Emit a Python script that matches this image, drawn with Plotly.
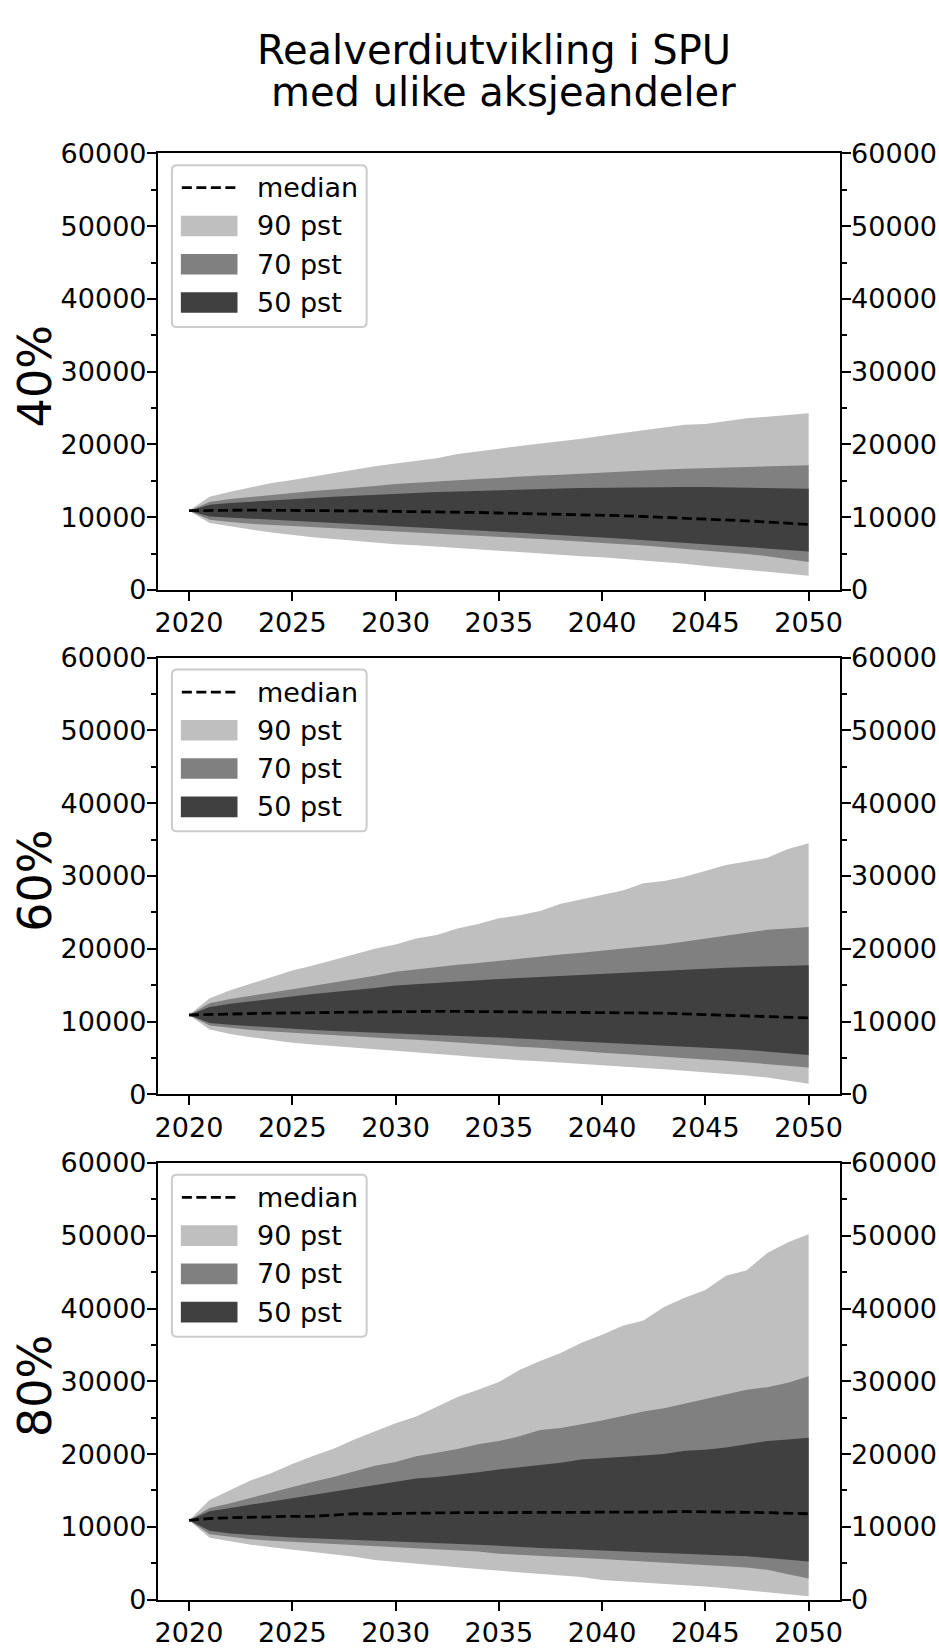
import plotly.graph_objects as go

years = list(range(2020, 2051))
panel_labels = ["40%", "60%", "80%"]
legend_labels = ["median", "90 pst", "70 pst", "50 pst"]
title_lines = ["Realverdiutvikling i SPU", " med ulike aksjeandeler"]

# ---- 40 % aksjeandel ----
p95_40 = [10900, 12800, 13500, 14100, 14700, 15100, 15600, 16100, 16600, 17000, 17400, 17700, 18100, 18700, 19000, 19400,
          19800, 20100, 20500, 20800, 21200, 21600, 22000, 22400, 22700, 22800, 23200, 23600, 23800, 24100, 24300]
p85_40 = [10900, 12100, 12500, 12800, 13100, 13350, 13600, 13800, 14100, 14300, 14550, 14750, 14900, 15100, 15250, 15400,
          15600, 15750, 15850, 16000, 16150, 16300, 16500, 16550, 16650, 16750, 16850, 16950, 17050, 17100, 17150]
p75_40 = [10900, 11700, 11950, 12150, 12350, 12500, 12650, 12800, 12950, 13100, 13250, 13350, 13450, 13550, 13650, 13750,
          13850, 13900, 13950, 14000, 14050, 14100, 14100, 14150, 14150, 14150, 14100, 14050, 14000, 13950, 13900]
med_40 = [10900, 10950, 10950, 10980, 10950, 10950, 10950, 10900, 10880, 10850, 10800, 10780, 10750, 10700, 10650, 10580,
          10530, 10480, 10420, 10350, 10300, 10200, 10100, 10000, 9900, 9800, 9650, 9500, 9350, 9150, 9000]
p25_40 = [10900, 10100, 9900, 9700, 9550, 9400, 9250, 9100, 8950, 8850, 8750, 8600, 8450, 8300, 8150, 8000,
          7850, 7700, 7550, 7400, 7200, 7050, 6850, 6700, 6500, 6300, 6100, 5900, 5700, 5500, 5300]
p15_40 = [10900, 9650, 9350, 9100, 8900, 8750, 8600, 8450, 8300, 8200, 8050, 7900, 7750, 7600, 7450, 7300,
          7150, 7000, 6850, 6700, 6500, 6300, 6100, 5900, 5700, 5450, 5200, 4950, 4650, 4300, 3850]
p5_40 = [10900, 9200, 8700, 8300, 7900, 7550, 7250, 7000, 6750, 6500, 6300, 6150, 6000, 5800, 5600, 5400,
         5200, 5000, 4850, 4650, 4500, 4300, 4100, 3850, 3600, 3300, 3050, 2800, 2500, 2200, 1950]

# ---- 60 % aksjeandel ----
p95_60 = [10900, 13200, 14300, 15200, 16100, 17000, 17700, 18500, 19200, 20000, 20600, 21400, 21900, 22800, 23400, 24200,
          24600, 25200, 26200, 26800, 27400, 28000, 29000, 29300, 29900, 30700, 31500, 32000, 32500, 33700, 34500]
p85_60 = [10900, 12500, 13100, 13600, 14000, 14450, 14900, 15400, 15800, 16300, 16850, 17200, 17500, 17800, 18050, 18350,
          18650, 18950, 19200, 19450, 19700, 20000, 20300, 20600, 21000, 21300, 21800, 22200, 22600, 22800, 23000]
p75_60 = [10900, 12000, 12450, 12800, 13150, 13500, 13800, 14050, 14300, 14600, 14950, 15150, 15350, 15550, 15700, 15850,
          16000, 16150, 16250, 16400, 16550, 16700, 16850, 16950, 17100, 17300, 17400, 17500, 17600, 17700, 17750]
med_60 = [10900, 11000, 11050, 11100, 11150, 11150, 11200, 11250, 11300, 11350, 11370, 11400, 11400, 11400, 11380, 11370,
          11350, 11300, 11300, 11250, 11200, 11150, 11150, 11150, 11050, 10950, 10850, 10800, 10700, 10600, 10500]
p25_60 = [10900, 9800, 9550, 9350, 9150, 9000, 8850, 8700, 8600, 8500, 8350, 8250, 8150, 8000, 7900, 7800,
          7650, 7550, 7400, 7250, 7100, 7000, 6850, 6700, 6550, 6400, 6250, 6100, 5900, 5650, 5400]
p15_60 = [10900, 9450, 9100, 8850, 8650, 8450, 8300, 8100, 7950, 7800, 7650, 7500, 7350, 7200, 6950, 6750,
          6550, 6400, 6200, 5950, 5700, 5550, 5400, 5250, 5000, 4800, 4600, 4400, 4200, 3950, 3700]
p5_60 = [10900, 8900, 8300, 7850, 7450, 7100, 6850, 6600, 6400, 6200, 6000, 5800, 5550, 5350, 5100, 4850,
         4700, 4550, 4400, 4200, 4050, 3850, 3650, 3450, 3250, 3050, 2850, 2600, 2300, 1900, 1450]

# ---- 80 % aksjeandel ----
p95_80 = [10900, 13700, 15050, 16400, 17400, 18650, 19750, 20750, 22000, 23150, 24250, 25150, 26500, 27850, 28850, 29900,
          31550, 32800, 33900, 35300, 36400, 37650, 38350, 40200, 41500, 42550, 44500, 45250, 47650, 49100, 50200]
p85_80 = [10900, 12600, 13250, 14000, 14750, 15500, 16200, 16850, 17600, 18400, 18900, 19700, 20200, 20700, 21350, 21800,
          22450, 23300, 23600, 24050, 24600, 25250, 25850, 26300, 26950, 27550, 28200, 28850, 29200, 29800, 30700]
p75_80 = [10900, 12150, 12600, 13050, 13500, 13950, 14400, 14850, 15300, 15750, 16200, 16650, 16850, 17150, 17500, 17900,
          18200, 18450, 18800, 19250, 19400, 19550, 19800, 20000, 20450, 20600, 20900, 21350, 21800, 22000, 22250]
med_80 = [10900, 11150, 11250, 11350, 11400, 11450, 11450, 11600, 11800, 11800, 11850, 11900, 11950, 11950, 11950, 11950,
          12000, 12050, 12000, 12000, 12000, 12000, 12000, 12050, 12100, 12100, 12100, 12000, 11950, 11850, 11800]
p25_80 = [10900, 9450, 9100, 8900, 8700, 8550, 8400, 8300, 8200, 8100, 8000, 7850, 7750, 7650, 7550, 7400,
          7300, 7100, 7000, 6900, 6750, 6650, 6500, 6400, 6300, 6200, 6050, 5950, 5750, 5500, 5250]
p15_80 = [10900, 9000, 8650, 8300, 8100, 7850, 7700, 7550, 7450, 7300, 7200, 7050, 6900, 6750, 6600, 6300,
          6200, 6050, 5900, 5750, 5600, 5400, 5250, 5100, 4900, 4700, 4550, 4400, 4100, 3500, 2900]
p5_80 = [10900, 8500, 8000, 7550, 7200, 6850, 6500, 6200, 5900, 5450, 5200, 4950, 4700, 4450, 4200, 3950,
         3700, 3500, 3300, 3100, 2700, 2500, 2300, 2150, 2000, 1800, 1550, 1300, 1050, 750, 450]

panels = [
    dict(p95=p95_40, p85=p85_40, p75=p75_40, med=med_40, p25=p25_40, p15=p15_40, p5=p5_40),
    dict(p95=p95_60, p85=p85_60, p75=p75_60, med=med_60, p25=p25_60, p15=p15_60, p5=p5_60),
    dict(p95=p95_80, p85=p85_80, p75=p75_80, med=med_80, p25=p25_80, p15=p15_80, p5=p5_80),
]

C90, C70, C50 = "#bfbfbf", "#808080", "#404040"
FONT = "DejaVu Sans"
W, H = 939, 1648
X0, X1 = 156, 842
TOPS = [140, 654, 1169]
PH = 445
FS = 27
DASH = "10px,4.5px"


def px(x):
    return x / W


def py(y):
    return 1 - y / H


fig = go.Figure()
shapes = []
annotations = []

for i, d in enumerate(panels):
    n = i + 1
    xa = "x" if n == 1 else f"x{n}"
    ya = "y" if n == 1 else f"y{n}"
    yr = f"y{n + 3}"
    for lo, hi, col in [("p5", "p95", C90), ("p15", "p85", C70), ("p25", "p75", C50)]:
        fig.add_trace(go.Scatter(
            x=years + years[::-1], y=d[hi] + d[lo][::-1], fill="toself", fillcolor=col,
            mode="lines", line=dict(width=0, color=col), xaxis=xa, yaxis=ya,
            showlegend=False, hoverinfo="skip"))
    fig.add_trace(go.Scatter(
        x=years, y=d["med"], mode="lines", line=dict(color="black", width=2.8, dash=DASH),
        xaxis=xa, yaxis=yr, showlegend=False))

    top = TOPS[i]
    dom_y = [py(top + PH), py(top)]
    axis_common = dict(ticks="outside", ticklen=9, tickwidth=2.2, tickcolor="black",
                       showline=True, linewidth=2.2, linecolor="black", showgrid=False, zeroline=False,
                       tickfont=dict(family=FONT, size=FS, color="black"))
    fig.layout[f"xaxis{'' if n == 1 else n}"] = dict(
        domain=[px(X0), px(X1)], range=[2018.5, 2051.5], anchor=ya, mirror=True, ticklabelstandoff=-1,
        tickmode="array", tickvals=[2020, 2025, 2030, 2035, 2040, 2045, 2050], **axis_common)
    yax = dict(domain=dom_y, range=[0, 60000], anchor=xa, tickmode="array", ticklabelstandoff=-5,
               tickvals=[0, 10000, 20000, 30000, 40000, 50000, 60000], tickformat="d",
               minor=dict(tickmode="array", tickvals=[5000, 15000, 25000, 35000, 45000, 55000],
                          ticks="outside", ticklen=5, tickwidth=2.2, tickcolor="black", showgrid=False),
               **axis_common)
    fig.layout[f"yaxis{'' if n == 1 else n}"] = dict(side="left", **yax)
    yr_ax = dict(yax)
    yr_ax.pop("domain")
    fig.layout[f"yaxis{n + 3}"] = dict(side="right", overlaying=ya, **yr_ax)

    # panel label
    annotations.append(dict(text=panel_labels[i], x=px(32), y=py(top + PH / 2 + 5), xref="paper", yref="paper",
                            showarrow=False, textangle=-90, font=dict(family=FONT, size=46, color="black"),
                            xanchor="center", yanchor="middle"))

    # legend box (rounded)
    bx0, bx1 = 170, 366
    by0, by1 = top + 12, top + 177
    r = 5
    rx, ry = r / W, r / H
    X_0, X_1, Y_0, Y_1 = px(bx0), px(bx1), py(by0), py(by1)
    path = (f"M{X_0 + rx},{Y_0} L{X_1 - rx},{Y_0} Q{X_1},{Y_0} {X_1},{Y_0 - ry} "
            f"L{X_1},{Y_1 + ry} Q{X_1},{Y_1} {X_1 - rx},{Y_1} L{X_0 + rx},{Y_1} "
            f"Q{X_0},{Y_1} {X_0},{Y_1 + ry} L{X_0},{Y_0 - ry} Q{X_0},{Y_0} {X_0 + rx},{Y_0} Z")
    shapes.append(dict(type="path", path=path, xref="paper", yref="paper",
                       fillcolor="white", line=dict(color="#cccccc", width=2), layer="above"))
    rows = [top + 35, top + 74, top + 113, top + 152]
    shapes.append(dict(type="line", x0=px(180), x1=px(235), y0=py(rows[0]), y1=py(rows[0]),
                       xref="paper", yref="paper", line=dict(color="black", width=2.8, dash=DASH),
                       layer="above"))
    for row, col in zip(rows[1:], [C90, C70, C50]):
        shapes.append(dict(type="rect", x0=px(179), x1=px(236), y0=py(row - 10.5), y1=py(row + 10.5),
                           xref="paper", yref="paper", fillcolor=col, line=dict(width=0), layer="above"))
    for row, lab in zip(rows, legend_labels):
        annotations.append(dict(text=lab, x=px(254), y=py(row), xref="paper", yref="paper", showarrow=False,
                                xanchor="left", yanchor="middle", font=dict(family=FONT, size=FS, color="black")))

# title
annotations.append(dict(text=title_lines[0], x=px(494.5), y=py(35), xref="paper", yref="paper", showarrow=False,
                        xanchor="center", yanchor="middle", font=dict(family=FONT, size=40, color="black")))
annotations.append(dict(text=title_lines[1].strip(), x=px(503.5), y=py(77), xref="paper", yref="paper",
                        showarrow=False, xanchor="center", yanchor="middle",
                        font=dict(family=FONT, size=40, color="black")))

fig.update_layout(width=W, height=H, margin=dict(l=0, r=0, t=0, b=0), paper_bgcolor="white",
                  plot_bgcolor="white", showlegend=False, shapes=shapes, annotations=annotations,
                  font=dict(family=FONT, color="black"))

fig.write_html("out.html", config={"displayModeBar": False},
               post_script="document.body.style.margin='0';document.body.style.overflow='hidden';")
